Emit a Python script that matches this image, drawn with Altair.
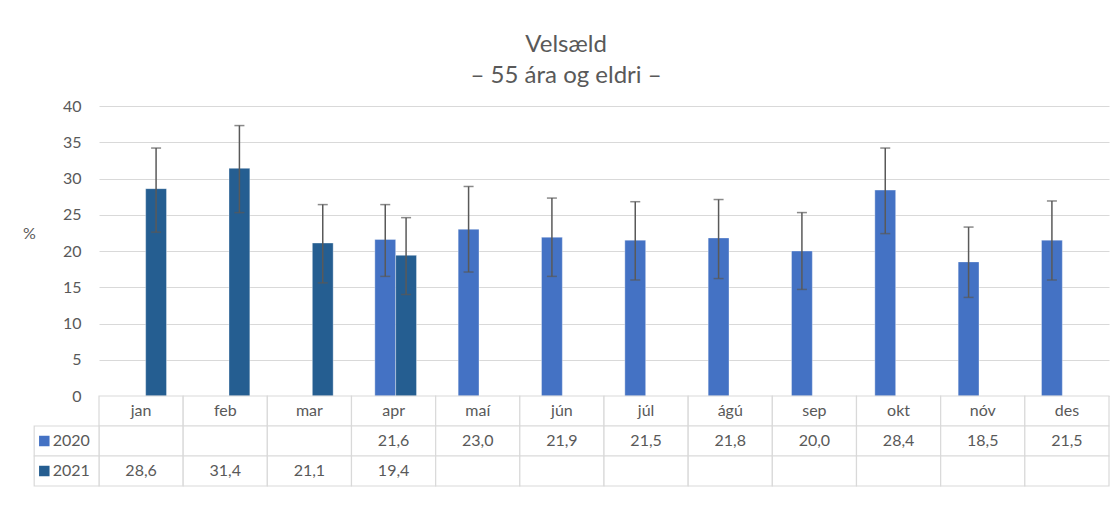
import altair as alt
import pandas as pd

# ---------------- data ----------------
months = ["jan", "feb", "mar", "apr", "maí", "jún", "júl", "ágú", "sep", "okt", "nóv", "des"]
years = ["2020", "2021"]
v2020 = [None, None, None, 21.6, 23.0, 21.9, 21.5, 21.8, 20.0, 28.4, 18.5, 21.5]
lo2020 = [None, None, None, 16.5, 17.1, 16.5, 16.0, 16.2, 14.7, 22.4, 13.6, 16.0]
hi2020 = [None, None, None, 26.4, 28.9, 27.3, 26.8, 27.1, 25.3, 34.2, 23.3, 26.9]
v2021 = [28.6, 31.4, 21.1, 19.4, None, None, None, None, None, None, None, None]
lo2021 = [22.6, 25.3, 15.6, 14.0, None, None, None, None, None, None, None, None]
hi2021 = [34.2, 37.3, 26.4, 24.6, None, None, None, None, None, None, None, None]
y_ticks = [0, 5, 10, 15, 20, 25, 30, 35, 40]

# ---------------- style ----------------
FONT = "Lato"
TXT = "#595959"
GRID = "#d9d9d9"
ERR = "#595959"
COLORS = ["#4472C4", "#255E91"]
W = 1010
H = 290
BAR_W = 0.25          # fraction of a month slot per bar
LEG_LEFT = -0.77      # legend column of the data table (in month units)
LEG_SQ = -0.65
LEG_TXT = -0.55

# ---------------- bar / error table ----------------
recs = []
for slot, (yr, vals, lo, hi) in enumerate([("2020", v2020, lo2020, hi2020),
                                           ("2021", v2021, lo2021, hi2021)]):
    for i, m in enumerate(months):
        if vals[i] is None:
            continue
        start = i + 0.5 - BAR_W + BAR_W * slot
        recs.append(dict(month=m, year=yr, value=vals[i], lo=lo[i], hi=hi[i],
                         x0=start, x1=start + BAR_W, xc=start + BAR_W / 2))
bars_df = pd.DataFrame(recs)

xscale = alt.Scale(domain=[0, 12], nice=False, zero=False)
yscale = alt.Scale(domain=[0, 40], nice=False)
color = alt.Color("year:N", scale=alt.Scale(domain=years, range=COLORS), legend=None)

yaxis = alt.Axis(values=y_ticks, title="%", titleAngle=0, titleX=-70, titleY=127,
                 titleAlign="center", titleBaseline="middle", titleFont=FONT,
                 titleFontSize=16, titleFontWeight="normal", titleColor=TXT,
                 labelFont=FONT, labelFontSize=16, labelColor=TXT, labelPadding=18,
                 labelFlush=False, labelBaseline="middle",
                 ticks=False, tickSize=0, domain=False, grid=True,
                 gridColor=GRID, gridWidth=1)

base = alt.Chart(bars_df)
bars = base.mark_bar(orient="vertical", stroke="#ffffff", strokeWidth=1,
                     strokeOpacity=0.35).encode(
    x=alt.X("x0:Q", scale=xscale, axis=None),
    x2="x1:Q",
    y=alt.Y("value:Q", scale=yscale, axis=yaxis),
    y2=alt.datum(0),
    color=color,
)
err = base.mark_rule(color=ERR, strokeWidth=1.5).encode(
    x=alt.X("xc:Q", scale=xscale, axis=None),
    y=alt.Y("lo:Q", scale=yscale, axis=yaxis),
    y2="hi:Q",
)
cap_hi = base.mark_tick(orient="horizontal", size=10, thickness=1.5, color=ERR).encode(
    x=alt.X("xc:Q", scale=xscale, axis=None),
    y=alt.Y("hi:Q", scale=yscale, axis=yaxis),
)
cap_lo = base.mark_tick(orient="horizontal", size=10, thickness=1.5, color=ERR).encode(
    x=alt.X("xc:Q", scale=xscale, axis=None),
    y=alt.Y("lo:Q", scale=yscale, axis=yaxis),
)
top = alt.layer(bars, err, cap_hi, cap_lo).properties(width=W, height=H)

# ---------------- data table below the plot ----------------
def fmt(v):
    return "" if v is None else f"{v:.1f}".replace(".", ",")

rows = ["hdr", "2020", "2021"]
cells = []
for i, m in enumerate(months):
    cells.append(dict(row="hdr", x0=i, x1=i + 1, xc=i + 0.5, label=m))
    cells.append(dict(row="2020", x0=i, x1=i + 1, xc=i + 0.5, label=fmt(v2020[i])))
    cells.append(dict(row="2021", x0=i, x1=i + 1, xc=i + 0.5, label=fmt(v2021[i])))
for yr in years:
    cells.append(dict(row=yr, x0=LEG_LEFT, x1=0, xc=LEG_TXT, label=""))
cells_df = pd.DataFrame(cells)
leg_df = pd.DataFrame(dict(row=years, year=years, xs=[LEG_SQ] * 2, xt=[LEG_TXT] * 2))

yrow = alt.Y("row:N", scale=alt.Scale(domain=rows, paddingInner=0, paddingOuter=0), axis=None)

cell_rect = alt.Chart(cells_df).mark_rect(fill="#ffffff", stroke=GRID, strokeWidth=1.2).encode(
    x=alt.X("x0:Q", scale=xscale, axis=None), x2="x1:Q", y=yrow)
cell_text = alt.Chart(cells_df).mark_text(font=FONT, fontSize=16, color=TXT,
                                          align="center", baseline="middle").encode(
    x=alt.X("xc:Q", scale=xscale, axis=None), y=yrow, text="label:N")
leg_sq = alt.Chart(leg_df).mark_square(size=110, opacity=1).encode(
    x=alt.X("xs:Q", scale=xscale, axis=None), y=yrow, color=color)
leg_txt = alt.Chart(leg_df).mark_text(font=FONT, fontSize=16, color=TXT,
                                      align="left", baseline="middle").encode(
    x=alt.X("xt:Q", scale=xscale, axis=None), y=yrow, text="year:N")
table = alt.layer(cell_rect, cell_text, leg_sq, leg_txt).properties(width=W, height=90)

chart = alt.vconcat(top, table, spacing=0, bounds="flush").properties(
    title=alt.TitleParams(["Velsæld", "– 55 ára og eldri –"], font=FONT, fontSize=24,
                          fontWeight="normal", color=TXT, lineHeight=31,
                          anchor="middle", offset=10),
    padding={"left": 14, "top": 25, "right": 0, "bottom": 0},
).configure_view(strokeWidth=0).configure_concat(spacing=0)

chart.save("out.html", embed_options={"renderer": "svg", "actions": False})
